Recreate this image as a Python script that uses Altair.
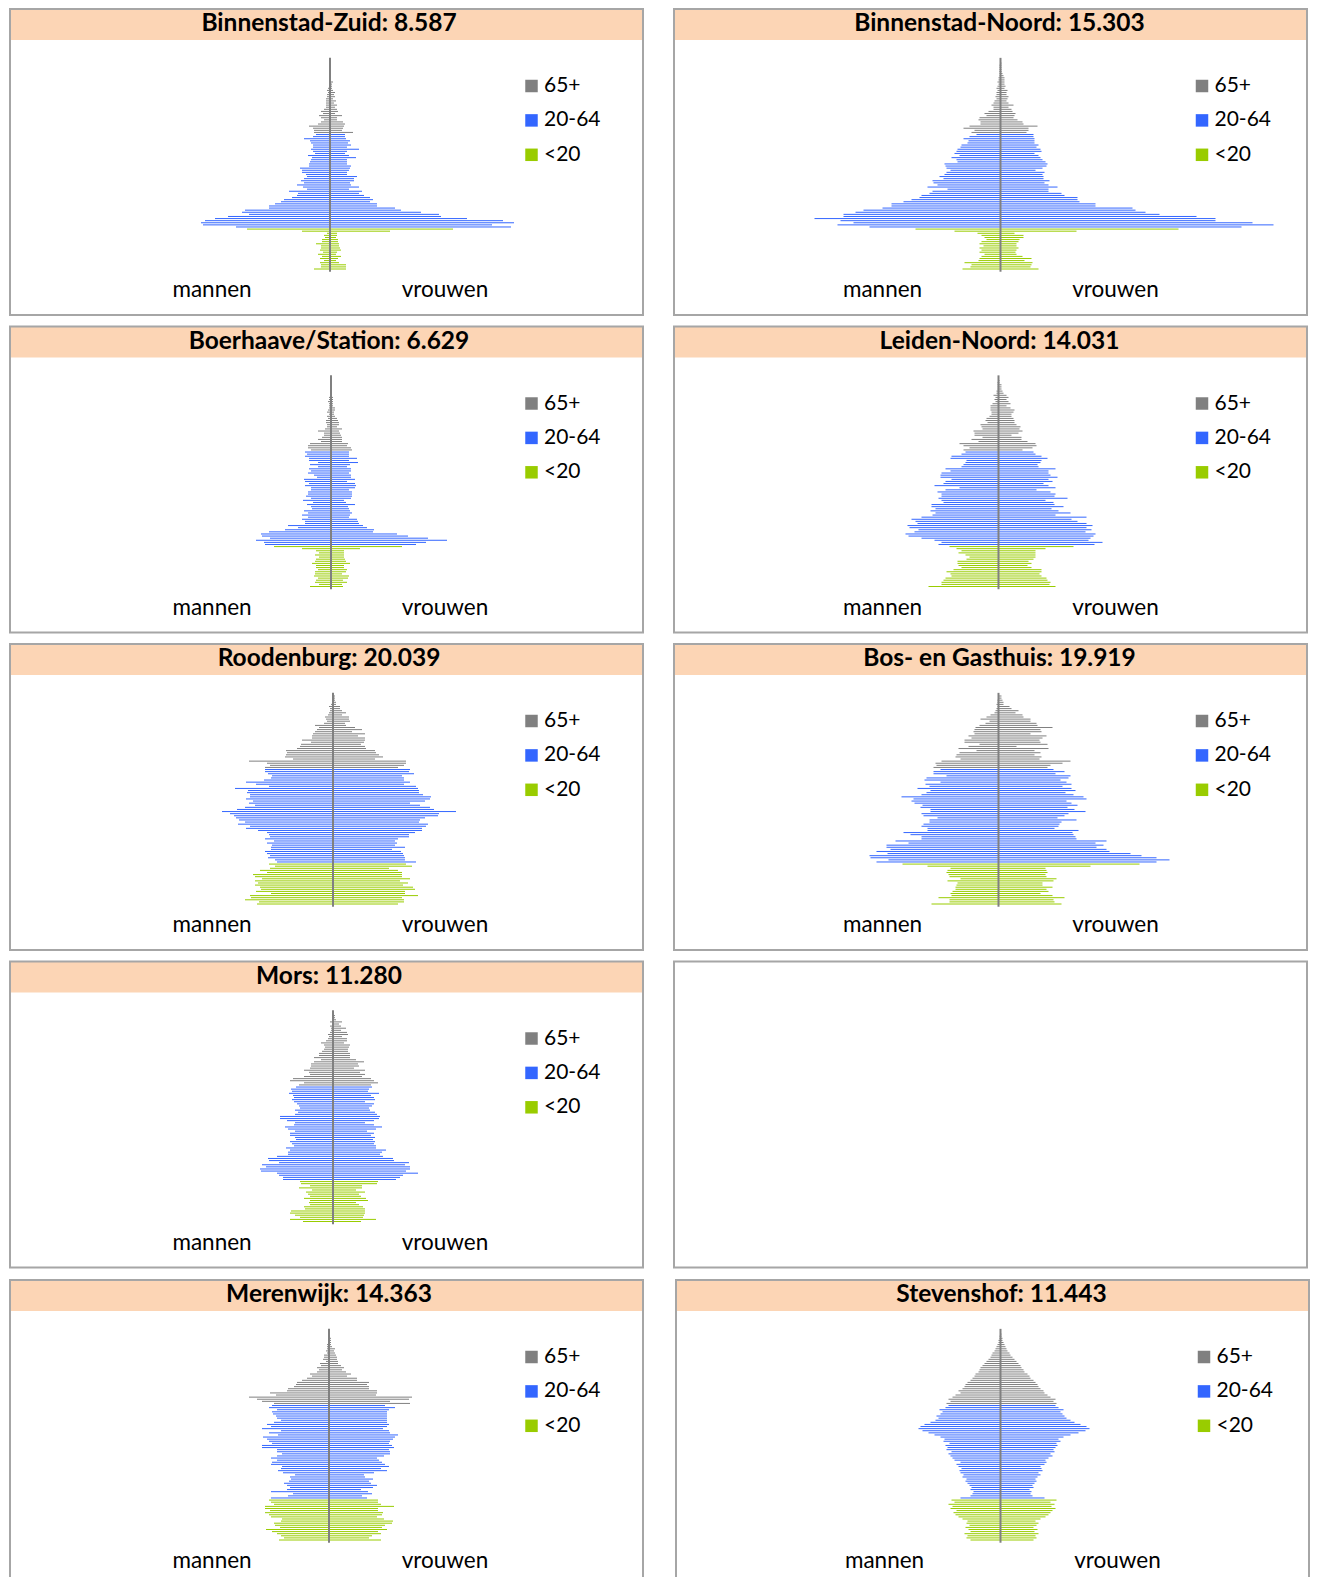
import altair as alt
import pandas as pd

# ---------------- data ----------------
AGES = list(range(100))
GROUPS = ["65+", "20-64", "<20"]
GROUP_COLORS = ["#808080", "#3366FF", "#99CC00"]

NAMES = ["Binnenstad-Zuid", "Binnenstad-Noord", "Boerhaave/Station", "Leiden-Noord",
         "Roodenburg", "Bos- en Gasthuis", "Mors", "Merenwijk", "Stevenshof"]
TOTALS = ["8.587", "15.303", "6.629", "14.031", "20.039", "19.919", "11.280", "14.363", "11.443"]

# persons per single year of age, ages 0..99 (mannen / vrouwen)
BZ_M = [16, 9, 9, 10, 6, 10, 8, 12, 7, 10, 9, 9, 14, 8, 8, 5, 6, 3, 28, 83,
        94, 127, 129, 125, 115, 102, 81, 88, 85, 61, 61, 55, 49, 46, 38, 33, 32, 41, 23, 27,
        33, 26, 29, 26, 23, 24, 28, 28, 30, 21, 21, 20, 19, 18, 22, 15, 17, 19, 17, 17,
        19, 20, 26, 17, 14,
        16, 16, 17, 21, 12, 9, 6, 9, 11, 7, 9, 6, 4, 4, 4, 4, 4, 3, 3, 2,
        3, 2, 1, 1, 1, 1, 1, 1, 1, 1, 0, 1, 0, 0, 0]
BZ_V = [16, 16, 16, 9, 6, 8, 11, 6, 7, 11, 10, 9, 9, 8, 8, 6, 7, 7, 60, 123,
        181, 162, 184, 173, 137, 111, 109, 91, 71, 65, 47, 47, 40, 43, 40, 34, 29, 32, 19, 29,
        21, 20, 24, 24, 27, 17, 17, 19, 20, 21, 17, 17, 17, 26, 19, 15, 17, 29, 17, 21,
        18, 20, 16, 15, 15,
        23, 12, 13, 14, 15, 13, 7, 7, 12, 5, 8, 7, 5, 7, 4, 6, 3, 5, 4, 5,
        3, 2, 2, 2, 3, 1, 1, 1, 1, 1, 1, 1, 0, 1, 0]

BN_M = [38, 30, 29, 36, 22, 21, 19, 16, 21, 19, 21, 17, 21, 19, 14, 16, 19, 23, 46, 85,
        131, 163, 147, 160, 186, 157, 157, 145, 137, 118, 109, 109, 97, 89, 81, 79, 71, 68, 53, 73,
        63, 67, 68, 57, 61, 56, 54, 50, 54, 55, 56, 43, 44, 49, 41, 46, 44, 43, 40, 39,
        33, 32, 37, 31, 24,
        29, 26, 37, 31, 20, 20, 22, 21, 14, 16, 12, 7, 7, 9, 7, 6, 4, 5, 4, 4,
        3, 4, 3, 2, 3, 2, 2, 1, 1, 1, 1, 1, 1, 0, 0]
BN_V = [38, 30, 31, 32, 24, 31, 22, 16, 15, 16, 18, 16, 16, 18, 19, 23, 23, 14, 76, 178,
        241, 273, 252, 215, 215, 196, 159, 145, 135, 132, 95, 95, 79, 77, 77, 64, 61, 48, 48, 57,
        48, 44, 49, 43, 43, 42, 44, 35, 42, 46, 47, 45, 42, 40, 38, 34, 41, 40, 36, 38,
        34, 34, 34, 33, 33,
        26, 28, 28, 37, 23, 22, 17, 13, 14, 15, 12, 11, 8, 13, 8, 6, 7, 8, 6, 6,
        7, 4, 5, 4, 4, 4, 4, 3, 2, 1, 1, 1, 1, 1, 0]

BS_M = [21, 12, 16, 15, 13, 17, 16, 16, 13, 15, 15, 19, 16, 15, 12, 16, 12, 15, 29, 57,
        66, 67, 75, 61, 69, 70, 62, 46, 33, 43, 26, 26, 29, 23, 29, 23, 27, 19, 20, 24,
        18, 28, 20, 25, 23, 23, 20, 20, 26, 22, 26, 27, 14, 17, 23, 20, 22, 13, 21, 13,
        22, 22, 26, 24, 26,
        20, 23, 23, 21, 10, 13, 9, 7, 7, 13, 6, 4, 4, 5, 5, 3, 4, 2, 4, 3,
        2, 2, 2, 3, 2, 2, 1, 1, 1, 0, 1, 0, 0, 0, 0]
BS_V = [12, 11, 16, 12, 17, 18, 11, 15, 16, 13, 13, 19, 15, 14, 13, 13, 13, 13, 29, 71,
        85, 95, 116, 97, 77, 66, 42, 43, 36, 32, 28, 27, 26, 18, 19, 21, 19, 18, 17, 24,
        15, 13, 20, 21, 21, 21, 18, 24, 25, 24, 16, 24, 20, 20, 18, 20, 20, 16, 19, 27,
        18, 26, 18, 18, 18,
        21, 20, 16, 17, 11, 11, 11, 10, 9, 8, 11, 6, 8, 8, 7, 6, 4, 3, 3, 4,
        4, 2, 2, 2, 2, 2, 1, 1, 1, 1, 0, 1, 0, 0, 0]

LN_M = [70, 57, 57, 55, 53, 47, 48, 52, 45, 37, 40, 41, 41, 32, 29, 33, 40, 37, 42, 49,
        60, 57, 64, 77, 90, 93, 84, 80, 89, 91, 81, 83, 87, 77, 66, 63, 68, 63, 67, 67,
        55, 57, 60, 57, 57, 61, 53, 39, 64, 55, 53, 47, 58, 58, 57, 48, 53, 37, 35, 33,
        32, 48, 47, 37, 33,
        35, 29, 35, 39, 20, 27, 16, 24, 24, 25, 16, 17, 18, 11, 13, 12, 9, 7, 7, 8,
        8, 8, 6, 3, 4, 3, 5, 2, 2, 1, 1, 1, 1, 0, 0]
LN_V = [57, 51, 52, 49, 48, 43, 41, 43, 43, 33, 29, 33, 30, 35, 37, 37, 37, 37, 47, 75,
        96, 104, 90, 92, 95, 97, 87, 93, 88, 94, 88, 79, 73, 88, 57, 72, 60, 53, 65, 56,
        55, 47, 69, 56, 57, 52, 38, 57, 50, 45, 54, 50, 59, 52, 50, 50, 57, 40, 39, 42,
        43, 49, 43, 37, 35,
        24, 34, 38, 37, 29, 23, 23, 13, 20, 24, 21, 22, 18, 16, 16, 15, 13, 13, 15, 16,
        12, 8, 12, 10, 8, 10, 8, 5, 4, 3, 3, 3, 1, 1, 0]

RB_M = [76, 74, 88, 82, 83, 62, 77, 72, 73, 78, 75, 78, 71, 78, 80, 66, 73, 63, 58, 64,
        56, 58, 65, 63, 66, 68, 62, 62, 61, 66, 59, 68, 63, 64, 66, 75, 87, 83, 95, 88,
        94, 97, 99, 103, 111, 96, 88, 78, 84, 80, 87, 83, 83, 86, 85, 98, 64, 77, 87, 69,
        62, 61, 65, 68, 68,
        68, 63, 66, 84, 40, 48, 47, 46, 47, 36, 33, 32, 22, 31, 21, 21, 20, 18, 16, 14,
        18, 9, 6, 7, 8, 5, 4, 3, 3, 4, 2, 1, 1, 0, 0]
RB_V = [65, 71, 71, 69, 85, 72, 72, 82, 80, 70, 75, 67, 77, 69, 69, 69, 65, 56, 79, 73,
        83, 72, 72, 71, 70, 68, 59, 72, 62, 64, 62, 65, 76, 76, 82, 89, 89, 93, 95, 86,
        87, 92, 105, 106, 123, 101, 97, 87, 77, 92, 97, 98, 90, 86, 86, 85, 83, 71, 77, 71,
        71, 69, 81, 76, 77,
        65, 71, 73, 73, 42, 50, 46, 43, 42, 33, 32, 28, 31, 32, 32, 25, 32, 19, 29, 22,
        13, 12, 17, 16, 16, 9, 13, 9, 7, 7, 3, 3, 2, 2, 2]

BG_M = [67, 49, 49, 60, 47, 48, 46, 43, 43, 42, 41, 51, 38, 49, 50, 52, 51, 48, 71, 96,
        122, 110, 128, 129, 111, 122, 108, 112, 112, 90, 103, 77, 77, 88, 95, 71, 71, 77, 75, 69,
        69, 61, 75, 77, 68, 68, 78, 76, 84, 87, 85, 97, 77, 72, 68, 81, 69, 73, 58, 74,
        72, 52, 65, 65, 58,
        65, 62, 63, 57, 38, 43, 42, 39, 22, 40, 30, 19, 34, 34, 27, 30, 24, 25, 24, 23,
        19, 13, 9, 18, 12, 8, 4, 3, 2, 1, 2, 1, 1, 0, 0]
BG_V = [63, 56, 55, 66, 54, 42, 50, 48, 54, 44, 44, 55, 58, 48, 47, 49, 48, 47, 92, 141,
        158, 171, 158, 143, 132, 111, 108, 98, 105, 97, 108, 78, 77, 75, 74, 80, 56, 60, 61, 63,
        78, 59, 66, 70, 87, 76, 69, 79, 73, 68, 88, 85, 75, 67, 77, 73, 64, 73, 68, 62,
        70, 72, 57, 66, 55,
        49, 52, 64, 72, 41, 43, 36, 42, 36, 50, 18, 49, 42, 41, 44, 48, 32, 43, 42, 54,
        39, 38, 32, 32, 25, 24, 17, 20, 13, 11, 5, 5, 4, 3, 3]

MO_M = [30, 43, 33, 38, 43, 42, 28, 29, 23, 24, 23, 29, 23, 25, 27, 21, 34, 23, 32, 33,
        50, 50, 54, 56, 72, 73, 67, 71, 54, 64, 65, 56, 45, 45, 43, 47, 39, 41, 43, 37,
        38, 43, 43, 38, 45, 48, 39, 38, 46, 53, 53, 38, 35, 38, 33, 34, 36, 39, 41, 39,
        40, 44, 41, 42, 37,
        34, 29, 43, 40, 29, 23, 24, 29, 23, 22, 22, 19, 12, 19, 14, 14, 11, 9, 8, 9,
        12, 7, 5, 4, 5, 3, 2, 2, 3, 1, 3, 1, 1, 0, 0]
MO_V = [28, 43, 30, 31, 32, 32, 32, 30, 26, 23, 35, 33, 28, 26, 32, 23, 29, 29, 44, 45,
        63, 67, 70, 85, 73, 77, 77, 72, 76, 61, 60, 50, 47, 49, 53, 43, 43, 41, 42, 40,
        42, 38, 41, 34, 43, 49, 41, 32, 41, 46, 47, 44, 42, 37, 36, 39, 41, 32, 42, 41,
        38, 46, 35, 36, 39,
        38, 45, 41, 38, 29, 32, 27, 32, 21, 26, 25, 31, 23, 17, 17, 17, 15, 15, 16, 17,
        11, 14, 14, 9, 15, 14, 8, 13, 8, 6, 9, 3, 2, 2, 1]

MW_M = [50, 45, 48, 52, 57, 63, 49, 54, 55, 48, 47, 58, 60, 64, 59, 64, 64, 55, 58, 60,
        58, 41, 36, 58, 42, 39, 42, 45, 40, 38, 39, 34, 46, 51, 48, 47, 58, 57, 52, 58,
        52, 47, 52, 52, 67, 67, 57, 60, 62, 66, 51, 60, 48, 67, 58, 62, 55, 48, 52, 53,
        56, 57, 52, 60, 57,
        55, 67, 72, 80, 53, 59, 42, 41, 35, 33, 32, 27, 22, 17, 19, 12, 10, 12, 8, 9,
        3, 6, 5, 5, 2, 3, 2, 2, 2, 1, 1, 1, 1, 0, 0]
MW_V = [52, 40, 43, 52, 49, 58, 53, 56, 63, 64, 55, 48, 53, 54, 49, 49, 65, 52, 49, 49,
        38, 33, 43, 39, 32, 44, 48, 42, 40, 44, 36, 35, 45, 58, 52, 60, 56, 53, 50, 48,
        55, 61, 61, 60, 65, 63, 60, 61, 64, 66, 69, 61, 60, 54, 58, 60, 58, 58, 58, 58,
        58, 58, 60, 66, 56,
        81, 61, 80, 83, 47, 48, 48, 40, 40, 38, 40, 28, 28, 18, 22, 17, 13, 15, 12, 9,
        9, 8, 8, 7, 6, 5, 6, 3, 2, 2, 2, 2, 1, 1, 0]

SH_M = [30, 34, 33, 36, 30, 32, 35, 31, 34, 33, 38, 42, 45, 47, 44, 50, 48, 52, 46, 49,
        40, 30, 28, 27, 30, 29, 31, 33, 35, 34, 38, 37, 40, 41, 39, 42, 44, 40, 46, 48,
        50, 52, 49, 54, 53, 55, 51, 57, 56, 60, 66, 72, 78, 82, 80, 76, 70, 65, 62, 64,
        60, 58, 61, 55, 52,
        54, 50, 52, 48, 45, 40, 42, 38, 36, 35, 33, 30, 28, 26, 25, 22, 21, 20, 18, 16,
        14, 12, 10, 9, 8, 6, 5, 4, 3, 2, 2, 1, 1, 0, 0]
SH_V = [33, 36, 35, 38, 34, 37, 33, 36, 38, 35, 40, 45, 48, 50, 52, 55, 51, 54, 50, 56,
        44, 32, 30, 31, 29, 33, 32, 34, 36, 35, 37, 40, 38, 42, 41, 40, 44, 46, 45, 48,
        52, 50, 54, 53, 55, 57, 56, 60, 58, 63, 70, 78, 85, 89, 86, 80, 74, 70, 66, 64,
        62, 60, 63, 58, 55,
        56, 53, 55, 50, 47, 44, 43, 40, 38, 37, 35, 33, 30, 29, 27, 24, 23, 21, 20, 18,
        16, 14, 12, 10, 9, 7, 6, 5, 4, 3, 2, 2, 1, 1, 0]

MEN = [BZ_M, BN_M, BS_M, LN_M, RB_M, BG_M, MO_M, MW_M, SH_M]
WOMEN = [BZ_V, BN_V, BS_V, LN_V, RB_V, BG_V, MO_V, MW_V, SH_V]
# horizontal position of the zero line inside each panel (layout)
CENTERS = [322, 322, 323, 320, 325, 320, 325, 321, 320]

# ---------------- layout ----------------
W, H = 633, 306
H_LAST = 296          # bottom row is cut off by the page edge, as in the original
SP = 29
VSP = 9.5
LEFT_DX = -2
RIGHT_DX = 4.5
AGE0_PX, AGE99_PX = 260, 52
PITCH = (AGE0_PX - AGE99_PX) / 99.0
FONT = "Lato"
BORDER = "#A6A6A6"

color_scale = alt.Scale(domain=GROUPS, range=GROUP_COLORS)
dummy = pd.DataFrame({"d": [0]})


def age_group(a):
    if a < 20:
        return "<20"
    if a < 65:
        return "20-64"
    return "65+"


def border(h, open_bottom=False):
    if not open_bottom:
        return [alt.Chart(dummy).mark_rect(filled=False, stroke=BORDER, strokeWidth=2).encode(
            x=alt.value(0), x2=alt.value(W), y=alt.value(0), y2=alt.value(h))]
    parts = []
    for xa, xb, ya, yb in [(0, 0, 0, h), (W, W, 0, h), (0, W, 0, 0)]:
        parts.append(alt.Chart(dummy).mark_rule(color=BORDER, strokeWidth=2,
                                                strokeCap="square").encode(
            x=alt.value(xa), x2=alt.value(xb), y=alt.value(ya), y2=alt.value(yb)))
    return parts


def panel(name, total, men, women, center, dx=0, h=H, open_bottom=False):
    assert len(men) == 100 and len(women) == 100
    rows = []
    for a, m, v in zip(AGES, men, women):
        g = age_group(a)
        rows.append({"age": a, "value": -m, "zero": 0, "group": g})
        rows.append({"age": a, "value": v, "zero": 0, "group": g})
    df = pd.DataFrame(rows)
    c = center + dx
    xs = alt.Scale(domain=[-c, W - c], nice=False, zero=False)
    ys = alt.Scale(domain=[-(h - AGE0_PX) / PITCH, AGE0_PX / PITCH], nice=False, zero=False)

    band = alt.Chart(dummy).mark_rect(color="#FCD5B5").encode(
        x=alt.value(0), x2=alt.value(W), y=alt.value(0), y2=alt.value(31))
    title = alt.Chart(dummy).mark_text(
        font=FONT, fontSize=24.5, fontWeight="bold", color="black",
        align="center", baseline="middle").encode(
        x=alt.value(321 + dx), y=alt.value(15), text=alt.value(f"{name}: {total}"))

    bars = alt.Chart(df).mark_rule(strokeWidth=1.0).encode(
        x=alt.X("value:Q", scale=xs, axis=None),
        x2=alt.X2("zero:Q"),
        y=alt.Y("age:Q", scale=ys, axis=None),
        color=alt.Color("group:N", scale=color_scale, legend=None),
    )
    axis_df = pd.DataFrame({"x": [0], "y1": [-1.3], "y2": [100.5]})
    center_line = alt.Chart(axis_df).mark_rule(color="#808080", strokeWidth=2).encode(
        x=alt.X("x:Q", scale=xs, axis=None),
        y=alt.Y("y1:Q", scale=ys, axis=None),
        y2="y2:Q",
    )

    leg_df = pd.DataFrame({"group": GROUPS, "i": [0, 1, 2]})
    leg_base = alt.Chart(leg_df).transform_calculate(py="77 + 34.4 * datum.i")
    leg_sq = leg_base.mark_square(size=156, opacity=1).encode(
        x=alt.value(523.5 + dx),
        y=alt.Y("py:Q", scale=None),
        color=alt.Color("group:N", scale=color_scale, legend=None),
    )
    leg_txt = leg_base.mark_text(font=FONT, fontSize=21, align="left",
                                 baseline="middle", color="black").encode(
        x=alt.value(536 + dx), y=alt.Y("py:Q", scale=None), text="group:N")

    lab_m = alt.Chart(dummy).mark_text(font=FONT, fontSize=22.5, color="black",
                                       align="center", baseline="middle").encode(
        x=alt.value(204 + dx), y=alt.value(281), text=alt.value("mannen"))
    lab_v = alt.Chart(dummy).mark_text(font=FONT, fontSize=22.5, color="black",
                                       align="center", baseline="middle").encode(
        x=alt.value(437 + dx), y=alt.value(281), text=alt.value("vrouwen"))

    return alt.layer(band, title, bars, center_line, leg_sq, leg_txt,
                     lab_m, lab_v, *border(h, open_bottom)).properties(width=W, height=h)


def empty_panel():
    return alt.layer(*border(H)).properties(width=W, height=H)


panels = []
for k, (n, t, m, v, c) in enumerate(zip(NAMES, TOTALS, MEN, WOMEN, CENTERS)):
    dx = LEFT_DX if k in (0, 2, 4, 6, 7) else RIGHT_DX
    if k >= 7:
        panels.append(panel(n, t, m, v, c, dx=dx, h=H_LAST, open_bottom=True))
    else:
        panels.append(panel(n, t, m, v, c, dx=dx))

rows = [
    alt.hconcat(panels[0], panels[1], spacing=SP),
    alt.hconcat(panels[2], panels[3], spacing=SP),
    alt.hconcat(panels[4], panels[5], spacing=SP),
    alt.hconcat(panels[6], empty_panel(), spacing=SP),
    alt.hconcat(panels[7], panels[8], spacing=SP),
]

chart = alt.vconcat(*rows, spacing=VSP).properties(
    padding=0, background="white"
).configure_view(stroke=None)

chart.save("out.html", embed_options={"renderer": "svg", "actions": False})
